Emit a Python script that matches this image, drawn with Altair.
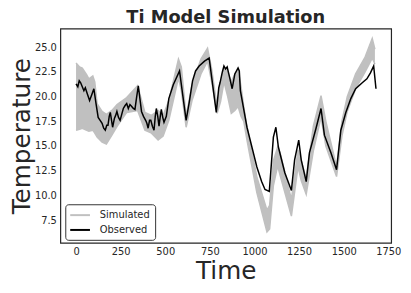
import altair as alt
import pandas as pd

# Observed series (time, temperature)
obs_t = [0, 10, 18, 26, 35, 44, 52, 63, 76, 88, 100, 112, 124, 135, 146, 155, 164,
         172, 179, 186, 192, 199, 205, 215, 222, 229, 238, 247, 256, 265, 275, 284,
         293, 302, 312, 321, 330, 340, 349, 358, 367, 378, 390, 397, 404, 412, 419,
         428, 437, 444, 450, 458, 465, 472, 478, 486, 493, 506, 520, 545, 580, 617,
         635, 653, 670, 690, 720, 746, 786, 800, 807, 820, 829, 838, 847, 860, 875,
         890, 908, 915, 921, 958, 1013, 1040, 1059, 1083, 1106, 1120, 1134, 1170,
         1207, 1225, 1248, 1262, 1290, 1308, 1345, 1373, 1392, 1429, 1460, 1484,
         1512, 1540, 1567, 1604, 1630, 1650, 1668, 1681]
obs_v = [21.3, 21.0, 21.6, 21.4, 21.0, 20.6, 20.9, 20.3, 19.6, 20.2, 20.8, 19.3,
         17.9, 17.6, 17.3, 16.8, 16.6, 17.1, 17.1, 18.0, 18.4, 17.6, 16.9, 17.8,
         18.1, 18.5, 17.9, 17.6, 18.2, 18.8, 19.1, 19.3, 18.8, 19.2, 19.0, 18.8,
         18.7, 20.0, 21.1, 19.8, 18.5, 18.0, 17.6, 17.3, 16.8, 17.6, 17.6, 17.0,
         16.6, 18.0, 18.8, 18.0, 17.0, 18.0, 18.7, 17.9, 17.4, 18.0, 19.8, 21.2,
         22.6, 17.6, 19.5, 21.6, 22.6, 23.1, 23.6, 23.9, 18.4, 20.9, 21.4, 22.5,
         23.1, 22.8, 23.0, 22.0, 20.8, 22.3, 22.9, 22.6, 20.6, 16.9, 12.9, 11.4,
         10.6, 10.4, 15.9, 16.9, 14.9, 12.3, 10.5, 13.6, 15.6, 13.6, 11.4, 14.3,
         16.8, 18.8, 16.1, 14.3, 12.6, 16.6, 18.4, 19.8, 20.8, 21.4, 21.8, 22.4,
         23.1, 20.8]

# Simulated ensemble envelope (time, lower, upper)
sim_t = [0, 20, 35, 60, 72, 94, 105, 118, 146, 170, 201, 230, 284, 345, 386, 423,
         460, 488, 520, 574, 590, 617, 650, 700, 737, 760, 791, 810, 829, 850, 870,
         890, 908, 925, 940, 958, 1013, 1070, 1085, 1106, 1130, 1144, 1207, 1244,
         1262, 1290, 1330, 1373, 1400, 1460, 1490, 1520, 1567, 1620, 1660, 1675]
sim_lo = [16.6, 16.7, 16.8, 16.6, 16.5, 16.6, 16.3, 15.9, 15.4, 15.2, 16.1, 17.0,
          18.4, 18.6, 16.6, 16.3, 15.6, 16.0, 17.6, 21.9, 20.6, 16.9, 19.6, 22.3,
          23.6, 21.5, 18.3, 19.5, 21.5, 20.0, 18.3, 18.6, 19.0, 18.0, 17.5, 15.6,
          10.3, 6.3, 6.6, 11.0, 13.0, 12.0, 7.9, 12.9, 11.5, 10.1, 14.5, 17.9,
          15.0, 11.9, 16.0, 18.5, 20.8, 22.5, 23.9, 23.3]
sim_hi = [23.4, 23.0, 22.9, 22.2, 21.8, 22.1, 21.5, 19.3, 18.5, 18.2, 18.6, 19.2,
          19.9, 21.1, 18.4, 18.1, 18.6, 18.1, 19.6, 23.8, 23.0, 18.0, 21.2, 23.8,
          24.9, 22.8, 18.9, 21.5, 23.0, 22.5, 21.5, 22.3, 22.8, 21.0, 19.0, 16.9,
          11.9, 8.5, 9.0, 13.5, 14.9, 14.3, 9.6, 14.6, 13.5, 11.7, 17.0, 20.1,
          17.5, 12.9, 17.5, 20.0, 22.3, 24.0, 25.9, 24.8]

x_ticks = [0, 250, 500, 750, 1000, 1250, 1500, 1750]
y_ticks = [7.5, 10.0, 12.5, 15.0, 17.5, 20.0, 22.5, 25.0]

sim_df = pd.DataFrame({"t": sim_t, "lo": sim_lo, "hi": sim_hi})
rows = []
for t, lo, hi in zip(sim_t, sim_lo, sim_hi):
    rows.append({"t": t, "v": lo, "series": "Simulated", "part": "lo"})
    rows.append({"t": t, "v": hi, "series": "Simulated", "part": "hi"})
for t, v in zip(obs_t, obs_v):
    rows.append({"t": t, "v": v, "series": "Observed", "part": "obs"})
line_df = pd.DataFrame(rows)

xscale = alt.Scale(domain=[-88, 1766], nice=False, zero=False)
yscale = alt.Scale(domain=[5.2, 26.9], nice=False, zero=False)

xaxis = alt.Axis(values=x_ticks, title="Time", format="d",
                 labelPadding=4, titlePadding=2)
yaxis = alt.Axis(values=y_ticks, title="Temperature", format=".1f",
                 labelPadding=4, titlePadding=0)

area = alt.Chart(sim_df).mark_area(color="#c0c0c0", opacity=1).encode(
    x=alt.X("t:Q", scale=xscale, axis=xaxis),
    y=alt.Y("lo:Q", scale=yscale, axis=yaxis),
    y2="hi:Q",
)

lines = alt.Chart(line_df).mark_line(strokeWidth=1.5).encode(
    x=alt.X("t:Q", scale=xscale, axis=xaxis),
    y=alt.Y("v:Q", scale=yscale, axis=yaxis),
    detail="part:N",
    order="t:Q",
    stroke=alt.Stroke(
        "series:N",
        scale=alt.Scale(domain=["Simulated", "Observed"], range=["#c0c0c0", "#000000"]),
        legend=alt.Legend(
            title=None, orient="none", legendX=5, legendY=178,
            symbolType="M-1.2,0H2.8", symbolSize=100, symbolStrokeWidth=2,
            labelFontSize=10, labelColor="#262626", padding=5,
            strokeColor="#333333", fillColor="white", cornerRadius=3,
            rowPadding=4, labelOffset=18,
        ),
    ),
)

chart = alt.layer(area, lines).properties(
    width=335, height=217,
    title=alt.TitleParams("Ti Model Simulation", fontSize=18, fontWeight="bold",
                          color="#262626", offset=2, anchor="middle",
                          frame="group"),
    autosize=alt.AutoSizeParams(type="none"),
    padding={"left": 53, "top": 19, "right": 12, "bottom": 41},
).configure(font="DejaVu Sans").configure_axis(
    grid=False, ticks=False, domain=False, labelOverlap=False, labelFlush=False,
    labelFontSize=10, titleFontSize=25, titleFontWeight="normal",
    labelColor="#262626", titleColor="#262626",
).configure_view(
    stroke="#262626", strokeWidth=1.2
)

chart.save("out.html", embed_options={"renderer": "svg", "actions": False})
